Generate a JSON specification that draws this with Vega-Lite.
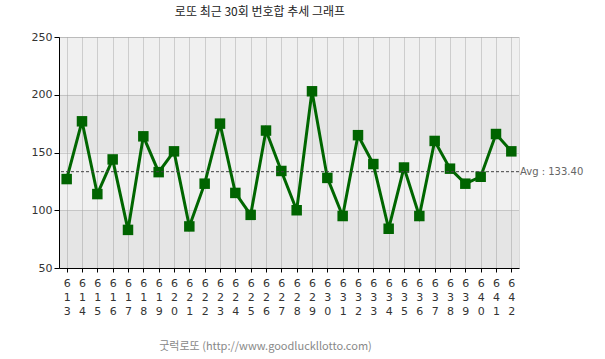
{
  "$schema": "https://vega.github.io/schema/vega-lite/v6.json",
  "width": 460,
  "height": 231,
  "autosize": {"type": "none"},
  "padding": {"left": 59, "top": 37, "right": 86, "bottom": 91},
  "background": "white",
  "title": {
    "text": "로또 최근 30회 번호합 추세 그래프",
    "font": "Noto Sans CJK KR",
    "fontSize": 12,
    "fontWeight": "normal",
    "color": "#222222",
    "offset": 12,
    "dx": -29,
    "anchor": "middle"
  },
  "config": {
    "view": {"stroke": "#b4b4b4", "strokeDash": [1, 1]},
    "axis": {
      "labelFont": "DejaVu Sans",
      "labelFontSize": 11,
      "labelColor": "#333333",
      "domainColor": "#000000",
      "tickColor": "#000000",
      "gridColor": "#b4b4b4",
      "gridDash": [1, 1],
      "gridOpacity": 1
    }
  },
  "datasets": {
    "sums": [
      {"round": "613", "sum": 127},
      {"round": "614", "sum": 177},
      {"round": "615", "sum": 114},
      {"round": "616", "sum": 144},
      {"round": "617", "sum": 83},
      {"round": "618", "sum": 164},
      {"round": "619", "sum": 133},
      {"round": "620", "sum": 151},
      {"round": "621", "sum": 86},
      {"round": "622", "sum": 123},
      {"round": "623", "sum": 175},
      {"round": "624", "sum": 115},
      {"round": "625", "sum": 96},
      {"round": "626", "sum": 169},
      {"round": "627", "sum": 134},
      {"round": "628", "sum": 100},
      {"round": "629", "sum": 203},
      {"round": "630", "sum": 128},
      {"round": "631", "sum": 95},
      {"round": "632", "sum": 165},
      {"round": "633", "sum": 140},
      {"round": "634", "sum": 84},
      {"round": "635", "sum": 137},
      {"round": "636", "sum": 95},
      {"round": "637", "sum": 160},
      {"round": "638", "sum": 136},
      {"round": "639", "sum": 123},
      {"round": "640", "sum": 129},
      {"round": "641", "sum": 166},
      {"round": "642", "sum": 151}
    ],
    "bands": [
      {"lo": 50, "hi": 100, "shade": "dark"},
      {"lo": 100, "hi": 150, "shade": "light"},
      {"lo": 150, "hi": 200, "shade": "dark"},
      {"lo": 200, "hi": 250, "shade": "light"}
    ],
    "avg": [{"avg": 133.4, "label": "Avg : 133.40"}]
  },
  "layer": [
    {
      "data": {"name": "bands"},
      "mark": {"type": "rect", "color": "#000000"},
      "encoding": {
        "y": {
          "field": "lo",
          "type": "quantitative",
          "scale": {"domain": [50, 250], "nice": false, "zero": false},
          "axis": {"values": [50, 100, 150, 200, 250], "title": null, "grid": true, "tickSize": 5, "labelPadding": 2}
        },
        "y2": {"field": "hi"},
        "opacity": {"field": "shade", "type": "nominal", "scale": {"domain": ["dark", "light"], "range": [0.1, 0.059]}, "legend": null}
      }
    },
    {
      "data": {"name": "sums"},
      "mark": {"type": "line", "color": "#006600", "strokeWidth": 3},
      "encoding": {
        "x": {
          "field": "round",
          "type": "ordinal",
          "scale": {"type": "point", "padding": 0.5},
          "axis": {
            "labelAngle": 0,
            "labelExpr": "split(datum.label, '')",
            "labelLineHeight": 14,
            "labelPadding": 5,
            "tickSize": 4,
            "grid": true,
            "title": "굿럭로또 (http://www.goodluckllotto.com)",
            "titleFont": "Noto Sans CJK KR",
            "titleFontSize": 11,
            "titleFontWeight": "normal",
            "titleColor": "#888888",
            "titlePadding": 24,
            "titleX": 206,
            "titleAlign": "center"
          }
        },
        "y": {
          "field": "sum",
          "type": "quantitative",
          "scale": {"domain": [50, 250], "nice": false, "zero": false},
          "axis": {"values": [50, 100, 150, 200, 250], "title": null, "grid": true, "tickSize": 5, "labelPadding": 2}
        }
      }
    },
    {
      "data": {"name": "sums"},
      "mark": {"type": "point", "shape": "square", "filled": true, "size": 110, "color": "#006400", "opacity": 1},
      "encoding": {
        "x": {"field": "round", "type": "ordinal", "axis": {
            "labelAngle": 0,
            "labelExpr": "split(datum.label, '')",
            "labelLineHeight": 14,
            "labelPadding": 5,
            "tickSize": 4,
            "grid": true,
            "title": "굿럭로또 (http://www.goodluckllotto.com)",
            "titleFont": "Noto Sans CJK KR",
            "titleFontSize": 11,
            "titleFontWeight": "normal",
            "titleColor": "#888888",
            "titlePadding": 24,
            "titleX": 206,
            "titleAlign": "center"
          }},
        "y": {"field": "sum", "type": "quantitative", "axis": {"values": [50, 100, 150, 200, 250], "title": null, "grid": true, "tickSize": 5, "labelPadding": 2}}
      }
    },
    {
      "data": {"name": "avg"},
      "mark": {"type": "rule", "color": "#444444", "strokeDash": [3, 2], "strokeWidth": 1},
      "encoding": {
        "y": {"field": "avg", "type": "quantitative", "axis": {"values": [50, 100, 150, 200, 250], "title": null, "grid": true, "tickSize": 5, "labelPadding": 2}}
      }
    },
    {
      "data": {"name": "avg"},
      "mark": {"type": "text", "align": "left", "baseline": "middle", "dx": 1, "font": "DejaVu Sans", "fontSize": 10, "color": "#666666"},
      "encoding": {
        "x": {"value": "width"},
        "y": {"field": "avg", "type": "quantitative", "axis": {"values": [50, 100, 150, 200, 250], "title": null, "grid": true, "tickSize": 5, "labelPadding": 2}},
        "text": {"field": "label"}
      }
    }
  ]
}
